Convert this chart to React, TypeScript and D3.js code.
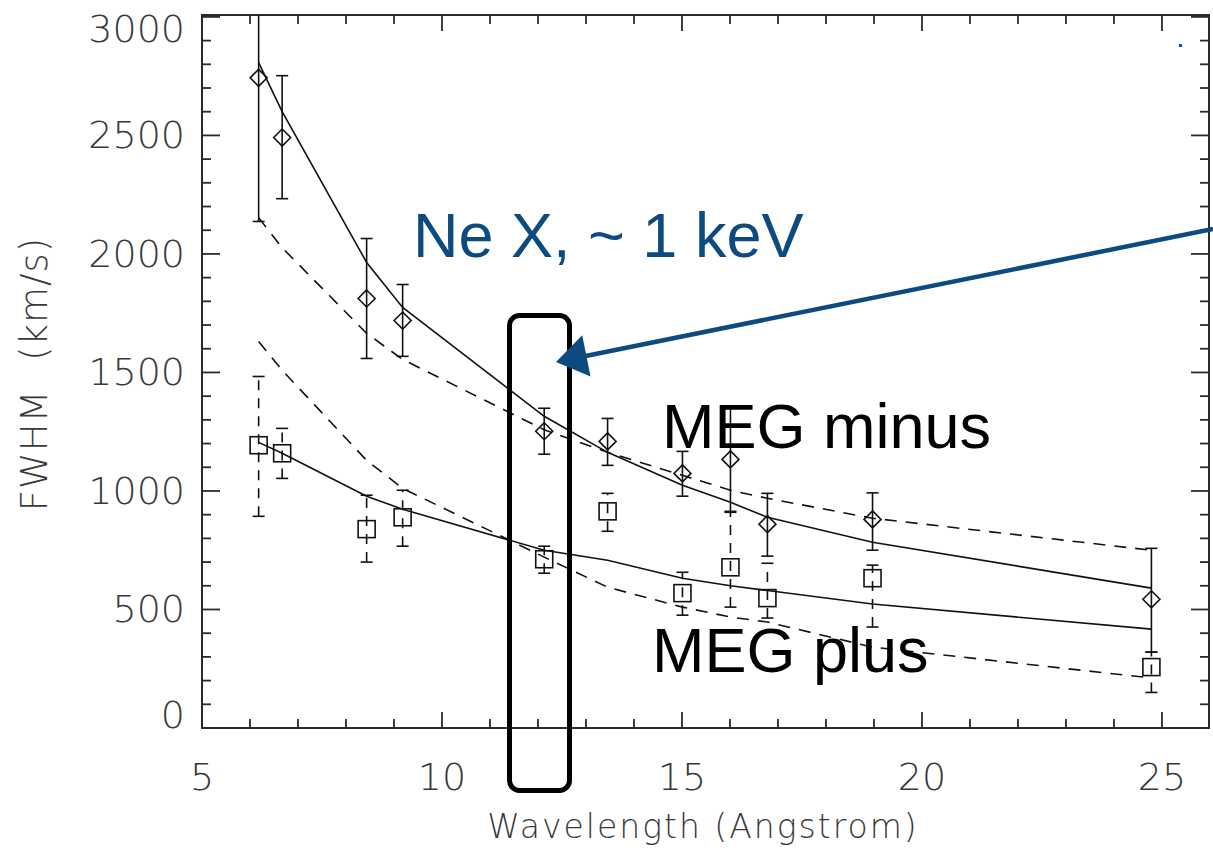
import React from "react";
import * as d3 from "d3";

// Wavelengths of the lines (Angstrom)
const wavelength = [6.18, 6.67, 8.43, 9.18, 12.13, 13.45, 15.01, 16.01, 16.78, 18.97, 24.78];

// MEG minus (diamonds)
const minusFWHM = [2743, 2491, 1812, 1719, 1252, 1209, 1074, 1133, 860, 880, 543];
const minusLo = [2137, 2233, 1559, 1568, 1155, 1108, 978, 910, 725, 750, 320];
const minusHi = [3350, 2752, 2065, 1871, 1349, 1306, 1167, 1356, 990, 992, 758];
const minusFitSolid = [2807, 2600, 1964, 1774, 1315, 1163, 1024, 952, 889, 784, 590];
const minusFitDashed = [2153, 2026, 1665, 1555, 1258, 1163, 1066, 1003, 969, 885, 750];

// MEG plus (squares)
const plusFWHM = [1193, 1159, 839, 889, 712, 914, 569, 678, 548, 632, 257];
const plusLo = [893, 1053, 700, 767, 653, 830, 476, 510, 464, 426, 150];
const plusHi = [1483, 1264, 982, 1003, 767, 990, 657, 914, 695, 687, 320];
const plusFitSolid = [1205, 1159, 978, 923, 750, 708, 632, 600, 580, 523, 417];
const plusFitDashed = [1631, 1509, 1129, 1011, 721, 594, 510, 468, 447, 341, 211];

const xMajorTicks = [5, 10, 15, 20, 25];
const yMajorTicks = [0, 500, 1000, 1500, 2000, 2500, 3000];

const xTitle = "Wavelength (Angstrom)";
const yTitle = "FWHM (km/s)";
const annotNe = "Ne X, ~ 1 keV";
const annotMinus = "MEG minus";
const annotPlus = "MEG plus";

const W = 1213;
const H = 851;

export default function App() {
  const x = d3.scaleLinear().domain([5, 25.98]).range([202, 1209]);
  const y = d3.scaleLinear().domain([0, 3008]).range([728, 15]);
  const [x0, x1] = x.range();
  const [y0, y1] = y.range();

  const xMinor = d3.range(5, 26, 1);
  const yMinor = d3.range(0, 3001, 100);

  const line = (vals: number[]) =>
    d3.line<number>().x((_, i) => x(wavelength[i])).y((v) => y(v))(vals) || "";

  const axisColor = "#2a2a2a";
  const labelColor = "#3a3a3a";
  const ink = "#111";
  const blue = "#0c4a80";
  const thinFont = "'DejaVu Sans ExtraLight', 'DejaVu Sans', sans-serif";

  const majorLen = 16;
  const minorLen = 9;

  // arrow geometry
  const arrowStart = [1213, 229];
  const arrowTip = [556, 362];
  const dx = arrowTip[0] - arrowStart[0];
  const dy = arrowTip[1] - arrowStart[1];
  const len = Math.hypot(dx, dy);
  const ux = dx / len, uy = dy / len;
  const headL = 31, headW = 21;
  const bx = arrowTip[0] - ux * headL, by = arrowTip[1] - uy * headL;
  const px = -uy, py = ux;

  const capW = 6;
  const dSize = 8.5;
  const sSize = 8.5;

  return (
    <svg
      width={W}
      height={H}
      style={{ position: "absolute", left: 0, top: 0, background: "#fff" }}
      fontFamily={thinFont}
    >
      <defs>
        <clipPath id="plotclip">
          <rect x={x0} y={y1} width={x1 - x0} height={y0 - y1} />
        </clipPath>
      </defs>
      <rect x={0} y={0} width={W} height={H} fill="#fff" />

      {/* frame */}
      <rect x={x0} y={y1} width={x1 - x0} height={y0 - y1} fill="none" stroke={axisColor} strokeWidth={2} />

      {/* x ticks bottom & top */}
      {xMinor.map((t) => {
        const major = xMajorTicks.includes(t);
        const l = major ? majorLen : minorLen;
        return (
          <g key={"xt" + t} stroke={axisColor} strokeWidth={1.8}>
            <line x1={x(t)} x2={x(t)} y1={y0} y2={y0 - l} />
            <line x1={x(t)} x2={x(t)} y1={y1} y2={y1 + l} />
          </g>
        );
      })}
      {/* y ticks left & right */}
      {yMinor.map((t) => {
        const major = yMajorTicks.includes(t);
        const l = major ? majorLen + 2 : minorLen;
        return (
          <g key={"yt" + t} stroke={axisColor} strokeWidth={1.8}>
            <line x1={x0} x2={x0 + l} y1={y(t)} y2={y(t)} />
            <line x1={x1} x2={x1 - l} y1={y(t)} y2={y(t)} />
          </g>
        );
      })}

      {/* tick labels */}
      {xMajorTicks.map((t) => (
        <text key={"xl" + t} x={x(t)} y={790} textAnchor="middle" fontSize={38} fontWeight={200} fill={labelColor}>
          {t}
        </text>
      ))}
      {yMajorTicks.map((t) => (
        <text
          key={"yl" + t}
          x={185}
          y={Math.min(Math.max(y(t), 29), 715)}
          textAnchor="end"
          dominantBaseline="central"
          fontSize={38}
          fontWeight={200}
          fill={labelColor}
        >
          {t}
        </text>
      ))}

      {/* axis titles */}
      <text x={703} y={838} textAnchor="middle" fontSize={33} fontWeight={200} letterSpacing={2} fill={labelColor}>
        {xTitle}
      </text>
      <text
        transform="translate(47,374) rotate(-90)"
        textAnchor="middle"
        fontSize={37}
        fontWeight={200}
        letterSpacing={1}
        wordSpacing={16}
        fill={labelColor}
      >
        {yTitle}
      </text>

      <g clipPath="url(#plotclip)">
        {/* fits */}
        <path d={line(minusFitSolid)} fill="none" stroke={ink} strokeWidth={1.6} />
        <path d={line(minusFitDashed)} fill="none" stroke={ink} strokeWidth={1.6} strokeDasharray="12 9" />
        <path d={line(plusFitSolid)} fill="none" stroke={ink} strokeWidth={1.6} />
        <path d={line(plusFitDashed)} fill="none" stroke={ink} strokeWidth={1.6} strokeDasharray="12 9" />

        {/* MEG minus error bars + diamonds */}
        {wavelength.map((w, i) => {
          const cx = x(w);
          return (
            <g key={"m" + i} stroke={ink} strokeWidth={1.6} fill="none">
              <line x1={cx} x2={cx} y1={y(minusLo[i])} y2={y(minusHi[i])} />
              <line x1={cx - capW} x2={cx + capW} y1={y(minusLo[i])} y2={y(minusLo[i])} />
              <line x1={cx - capW} x2={cx + capW} y1={y(minusHi[i])} y2={y(minusHi[i])} />
              <path
                d={`M${cx},${y(minusFWHM[i]) - dSize} L${cx + dSize},${y(minusFWHM[i])} L${cx},${y(minusFWHM[i]) + dSize} L${cx - dSize},${y(minusFWHM[i])} Z`}
              />
            </g>
          );
        })}

        {/* MEG plus error bars + squares */}
        {wavelength.map((w, i) => {
          const cx = x(w);
          return (
            <g key={"p" + i} stroke={ink} strokeWidth={1.6} fill="none">
              <line x1={cx} x2={cx} y1={y(plusLo[i])} y2={y(plusHi[i])} strokeDasharray="10 8" />
              <line x1={cx - capW} x2={cx + capW} y1={y(plusLo[i])} y2={y(plusLo[i])} />
              <line x1={cx - capW} x2={cx + capW} y1={y(plusHi[i])} y2={y(plusHi[i])} />
              <rect x={cx - sSize} y={y(plusFWHM[i]) - sSize} width={2 * sSize} height={2 * sSize} />
            </g>
          );
        })}
      </g>

      {/* blue dot */}
      <rect x={1179} y={44} width={3} height={3} fill="#1a3cff" />

      {/* annotations */}
      <text x={413} y={257} fontSize={63} fontFamily="'Liberation Sans', Arial, sans-serif" fill={blue}>
        {annotNe}
      </text>
      <text x={662} y={448} fontSize={63} fontFamily="'Liberation Sans', Arial, sans-serif" fill="#000">
        {annotMinus}
      </text>
      <text x={652} y={672} fontSize={63} fontFamily="'Liberation Sans', Arial, sans-serif" fill="#000">
        {annotPlus}
      </text>

      {/* highlight box */}
      <rect x={509.5} y={315.5} width={60} height={475} rx={10} ry={10} fill="none" stroke="#000" strokeWidth={5} />

      {/* arrow */}
      <line x1={arrowStart[0]} y1={arrowStart[1]} x2={bx + ux * 2} y2={by + uy * 2} stroke={blue} strokeWidth={4.5} />
      <path
        d={`M${arrowTip[0]},${arrowTip[1]} L${bx + px * headW},${by + py * headW} L${bx - px * headW},${by - py * headW} Z`}
        fill={blue}
      />
    </svg>
  );
}
